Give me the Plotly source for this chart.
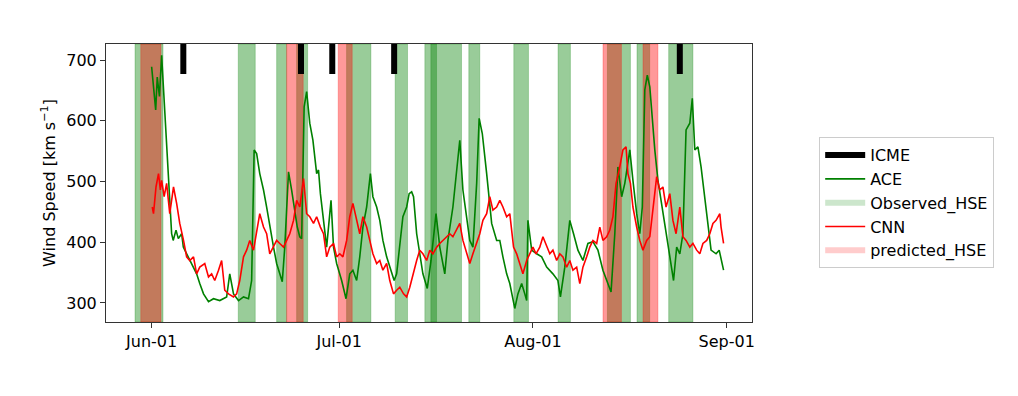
import pandas as pd
import plotly.graph_objects as go

BASE = pd.Timestamp("2018-06-01")

# ACE observed wind speed (day offset from Jun-01, km/s)
ace_days = [0.0, 0.35, 0.65, 0.9, 1.25, 1.6, 1.85, 2.14, 2.4, 2.65, 2.94, 3.2, 3.45, 3.9, 4.27, 4.8, 5.07,
            5.6, 6.4, 7.2, 7.7, 8.3, 9.1, 9.9, 10.9, 12.0, 12.5, 13.1, 13.9, 14.7, 15.5, 16.0, 16.4, 16.8,
            17.3, 17.9, 18.4, 18.9, 19.5, 20.0, 20.5, 20.9, 21.3, 21.9, 22.4, 22.9, 23.3, 23.7, 24.0, 24.4,
            24.8, 25.3, 25.8, 26.4, 26.7, 27.0, 27.5, 28.0, 28.7, 29.1, 29.6, 30.4, 31.1, 31.7, 32.2, 32.8,
            33.3, 33.8, 34.4, 35.0, 35.4, 36.0, 36.5, 37.0, 37.6, 38.1, 38.8, 39.2, 39.7, 40.2, 40.8, 41.2,
            41.6, 41.9, 42.4, 42.9, 43.4, 44.1, 44.7, 45.5, 46.1, 46.9, 47.4, 48.2, 48.8, 49.3, 49.8, 50.4,
            50.9, 51.4, 52.0, 52.4, 52.9, 53.6, 54.4, 55.2, 55.7, 56.2, 56.8, 57.3, 58.1, 58.6, 59.2, 59.7,
            60.0, 60.2, 60.8, 61.6, 62.4, 63.2, 64.2, 65.0, 65.4, 66.1, 66.9, 67.5, 68.2, 69.0, 69.8, 70.6,
            71.4, 72.2, 72.8, 73.5, 74.1, 74.6, 75.2, 75.7, 76.1, 76.5, 77.0, 77.6, 78.1, 78.5, 78.9, 79.3,
            79.7, 80.1, 80.5, 81.0, 81.5, 82.1, 82.6, 83.0, 83.5, 84.0, 84.5, 85.0, 85.5, 86.1, 86.5, 86.9,
            87.4, 87.9, 88.5, 89.0, 89.5, 90.3, 90.8, 91.5]
ace_speed = [689, 655, 618, 672, 640, 708, 660, 623, 568, 513, 458, 414, 403, 420, 406, 414, 392,
             381, 365, 348, 332, 315, 302, 307, 304, 310, 348, 315, 304, 310, 307, 337, 552, 546,
             513, 486, 458, 425, 392, 365, 348, 335, 392, 516, 486, 447, 425, 409, 406, 623,
             648, 596, 568, 513, 519, 480, 431, 392, 469, 392, 365, 337, 307, 348, 354, 337,
             376, 425, 458, 513, 475, 458, 436, 403, 376, 359, 337, 348, 392, 442, 458, 480,
             483, 475, 414, 381, 348, 324, 370, 447, 392, 348, 403, 458, 513, 568, 486, 436,
             403, 392, 497, 604, 579, 513, 431, 403, 403, 376, 348, 332, 291, 315, 332, 315,
             304, 436, 387, 381, 376, 359, 348, 337, 310, 359, 436, 414, 387, 370, 398, 401,
             387, 354, 337, 318, 414, 524, 475, 497, 524, 552, 502, 447, 414, 458, 651, 675,
             656, 596, 552, 502, 469, 431, 403, 376, 337, 392, 381, 414, 585, 596, 637, 552,
             557, 524, 469, 425, 387, 381, 387, 354]

# CNN predicted wind speed
cnn_days = [0.1, 0.3, 0.7, 1.1, 1.4, 1.6, 2.0, 2.4, 2.9, 3.5, 4.0, 4.5, 5.1, 5.6, 6.1, 6.7, 7.2, 7.7, 8.5,
            9.1, 9.6, 10.1, 10.7, 11.2, 11.7, 12.3, 13.1, 13.6, 14.1, 14.7, 15.2, 15.7, 16.3, 16.8, 17.3,
            17.9, 18.4, 18.9, 19.5, 20.0, 20.5, 21.1, 21.6, 22.1, 22.7, 23.2, 23.7, 24.0, 24.3, 24.8, 25.3,
            25.9, 26.4, 27.0, 27.5, 28.0, 28.5, 29.1, 29.6, 30.1, 30.6, 31.2, 31.7, 32.2, 32.8, 33.3, 33.8,
            34.4, 34.9, 35.4, 36.0, 36.5, 37.0, 37.6, 38.1, 38.7, 39.2, 39.7, 40.3, 40.8, 41.3, 41.8, 42.4,
            42.9, 43.4, 44.0, 44.5, 45.0, 45.6, 46.1, 46.6, 47.2, 47.7, 48.2, 48.8, 49.3, 49.8, 50.4, 50.9,
            51.4, 52.0, 52.5, 53.0, 53.6, 54.1, 54.6, 55.2, 55.7, 56.2, 56.8, 57.3, 57.9, 58.4, 59.0, 59.4,
            60.0, 60.5, 61.0, 61.5, 62.1, 62.6, 63.2, 63.7, 64.2, 64.8, 65.3, 65.8, 66.4, 66.9, 67.4, 68.0,
            68.5, 69.0, 69.6, 70.1, 70.6, 71.2, 71.7, 72.2, 72.8, 73.3, 73.8, 74.3, 74.8, 75.4, 75.9, 76.2,
            76.6, 77.0, 77.6, 78.1, 78.6, 79.2, 79.7, 80.2, 80.8, 81.3, 81.8, 82.3, 82.9, 83.4, 83.9, 84.5,
            85.0, 85.5, 86.1, 86.6, 87.2, 87.7, 88.2, 88.8, 89.3, 89.8, 90.3, 90.9, 91.1, 91.5]
cnn_speed = [458, 447, 491, 513, 486, 502, 475, 497, 447, 491, 464, 431, 403, 376, 370, 376, 348, 359, 365,
             343, 348, 337, 354, 370, 321, 315, 310, 315, 337, 376, 387, 403, 387, 414, 447,
             425, 414, 381, 392, 403, 398, 392, 403, 414, 436, 469, 458, 480, 505, 447, 442,
             431, 442, 425, 414, 376, 392, 398, 376, 381, 376, 403, 442, 464, 436, 414, 442,
             425, 403, 381, 365, 370, 354, 365, 337, 315, 321, 326, 315, 310, 326, 348, 370,
             387, 381, 370, 387, 381, 392, 398, 403, 409, 414, 409, 420, 431, 403, 381, 365,
             381, 398, 414, 436, 447, 475, 453, 458, 469, 458, 442, 447, 392, 381, 359, 348,
             370, 381, 392, 381, 392, 409, 392, 381, 387, 370, 381, 376, 359, 370, 354, 359,
             332, 359, 376, 392, 403, 398, 425, 403, 409, 420, 442, 497, 519, 552, 557, 513,
             497, 458, 425, 403, 387, 403, 409, 458, 508, 486, 491, 458, 480, 436, 414, 458,
             409, 403, 392, 398, 387, 381, 398, 403, 414, 431, 436, 447, 425, 398]

# ICME arrival times (day offsets)
icme_days = [5.07, 23.9, 28.9, 38.8, 84.5]

# Observed high-speed-enhancement intervals (start, end day offsets)
obs_start = [-2.66, 13.86, 20.0, 23.2, 31.19, 38.96, 43.71, 44.67, 50.74, 57.94, 65.02, 72.92, 77.65, 82.72]
obs_end = [1.82, 16.58, 21.6, 24.96, 35.08, 40.94, 45.58, 49.58, 52.5, 60.29, 67.0, 76.6, 79.68, 86.6]

# Predicted HSE intervals
pred_start = [-1.74, 21.6, 29.85, 72.21, 78.61]
pred_end = [1.5, 24.25, 32.09, 75.16, 81.0]

x_range_days = [-7.3, 96.05]
y_range = [268.7, 726.4]
icme_bar = [677, 740]
tick_labels = ["Jun-01", "Jul-01", "Aug-01", "Sep-01"]
tick_dates = ["2018-06-01", "2018-07-01", "2018-08-01", "2018-09-01"]


def to_dt(days):
    return [BASE + pd.to_timedelta(d, unit="D") for d in days]


fig = go.Figure()

# ICME bars
ix, iy = [], []
for d in icme_days:
    t = BASE + pd.to_timedelta(d, unit="D")
    ix += [t, t, None]
    iy += [icme_bar[0], icme_bar[1], None]
fig.add_trace(go.Scatter(x=ix, y=iy, mode="lines", name="ICME",
                         line=dict(color="black", width=6)))

fig.add_trace(go.Scatter(x=to_dt(ace_days), y=ace_speed, mode="lines", name="ACE",
                         line=dict(color="green", width=1.6)))
fig.add_trace(go.Scatter(x=[None], y=[None], mode="lines", name="Observed_HSE",
                         line=dict(color="rgba(0,128,0,0.2)", width=6)))
fig.add_trace(go.Scatter(x=to_dt(cnn_days), y=cnn_speed, mode="lines", name="CNN",
                         line=dict(color="red", width=1.6)))
fig.add_trace(go.Scatter(x=[None], y=[None], mode="lines", name="predicted_HSE",
                         line=dict(color="rgba(255,0,0,0.2)", width=6)))

shapes = []
for s, e in zip(obs_start, obs_end):
    shapes.append(dict(type="rect", xref="x", yref="paper",
                       x0=BASE + pd.to_timedelta(s, unit="D"), x1=BASE + pd.to_timedelta(e, unit="D"),
                       y0=0, y1=1, fillcolor="rgba(0,128,0,0.4)",
                       line=dict(color="rgba(0,128,0,0.25)", width=1), layer="below"))
for s, e in zip(pred_start, pred_end):
    shapes.append(dict(type="rect", xref="x", yref="paper",
                       x0=BASE + pd.to_timedelta(s, unit="D"), x1=BASE + pd.to_timedelta(e, unit="D"),
                       y0=0, y1=1, fillcolor="rgba(255,0,0,0.4)",
                       line=dict(color="rgba(255,0,0,0.25)", width=1), layer="below"))

fig.update_layout(
    width=1010, height=388,
    margin=dict(l=98, r=266, t=36, b=74, autoexpand=False),
    paper_bgcolor="white", plot_bgcolor="white",
    font=dict(family="DejaVu Sans", size=16, color="black"),
    shapes=shapes,
    showlegend=True,
    legend=dict(x=1.104, y=0.665, xanchor="left", yanchor="top",
                bordercolor="#cccccc", borderwidth=1, bgcolor="white",
                font=dict(size=16), itemwidth=40, traceorder="normal"),
)
fig.update_xaxes(
    type="date",
    range=to_dt(x_range_days),
    tickvals=tick_dates, ticktext=tick_labels,
    showgrid=False, zeroline=False,
    showline=True, linecolor="#333333", linewidth=1, mirror=True,
    ticks="outside", ticklen=5, tickcolor="#333333",
    tickfont=dict(size=16),
)
fig.update_yaxes(
    range=y_range,
    tickvals=[300, 400, 500, 600, 700],
    showgrid=False, zeroline=False,
    showline=True, linecolor="#333333", linewidth=1, mirror=True,
    ticks="outside", ticklen=5, tickcolor="#333333",
    tickfont=dict(size=16),
    title=dict(text="Wind Speed [km s<sup>\u22121</sup>]", font=dict(size=16), standoff=6),
)

fig.write_html("out.html")
